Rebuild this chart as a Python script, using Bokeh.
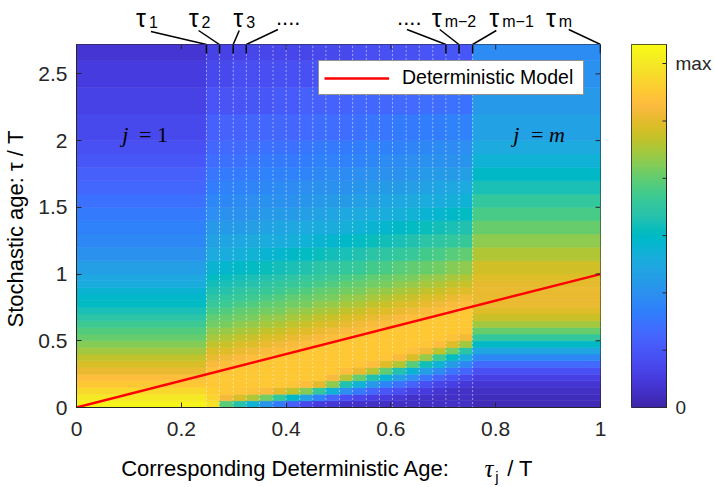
import numpy as np
from bokeh.plotting import figure
from bokeh.models import (Range1d, FixedTicker, Label, LinearColorMapper, Legend,
                          LegendItem, ColumnDataSource, CustomJSTickFormatter)
from bokeh.core.properties import value
from bokeh.transform import linear_cmap
from bokeh.layouts import row, column
from bokeh.embed import file_html
from bokeh.resources import INLINE

# ---------------- data ----------------
# deterministic ages tau_1 .. tau_{m-1} (column boundaries) and tau_m
tau = [0.248, 0.273, 0.299, 0.324, 0.349, 0.375, 0.400, 0.426, 0.451, 0.476,
       0.502, 0.527, 0.553, 0.578, 0.603, 0.629, 0.654, 0.680, 0.705, 0.730, 0.756]
tau_m = 1.0
# stochastic-age bins (row edges)
y_edges = [0.0, 0.05, 0.1, 0.15, 0.2, 0.25, 0.3, 0.35, 0.4, 0.45, 0.5, 0.55, 0.6,
           0.65, 0.7, 0.75, 0.8, 0.85, 0.9, 0.95, 1.0, 1.1, 1.2, 1.3, 1.4, 1.5, 1.6,
           1.7, 1.8, 1.9, 2.0, 2.2, 2.4, 2.6, 2.8]
# density (percent of colour-scale top), one list per column j, bottom to top
col_j01 = [98, 95, 91, 87, 84, 80, 77, 74, 70, 67, 64, 61, 58, 54, 51, 48, 46, 44, 41, 39,
           36, 32, 29, 27, 25, 23, 20, 18, 16, 14, 12, 10, 8, 6]
col_j02 = [93, 90, 88, 87, 87, 85, 83, 80, 77, 74, 71, 68, 65, 63, 60, 57, 55, 52, 50, 48,
           44, 40, 37, 34, 31, 29, 26, 24, 22, 20, 18, 15, 12, 10]
col_j03 = [62, 82, 87, 87, 87, 86, 84, 81, 78, 75, 72, 69, 66, 64, 61, 58, 56, 53, 51, 49,
           45, 41, 38, 34, 32, 29, 27, 25, 23, 21, 19, 15, 12, 10]
col_j04 = [53, 77, 86, 87, 87, 87, 85, 83, 80, 77, 74, 71, 68, 65, 63, 60, 57, 55, 52, 50,
           47, 42, 39, 35, 32, 30, 27, 25, 23, 21, 19, 15, 13, 10]
col_j05 = [43, 72, 85, 87, 87, 87, 86, 84, 81, 78, 75, 72, 69, 66, 64, 61, 58, 56, 53, 51,
           48, 43, 40, 36, 33, 31, 28, 26, 24, 22, 20, 16, 13, 11]
col_j06 = [33, 65, 83, 87, 87, 87, 87, 85, 83, 80, 77, 74, 71, 68, 65, 63, 60, 57, 55, 52,
           49, 44, 41, 37, 34, 32, 29, 27, 25, 23, 20, 16, 13, 11]
col_j07 = [25, 56, 79, 87, 87, 87, 87, 87, 84, 81, 78, 75, 72, 69, 66, 64, 61, 58, 56, 53,
           50, 45, 41, 38, 35, 32, 30, 27, 25, 23, 20, 17, 14, 11]
col_j08 = [18, 47, 74, 86, 87, 87, 87, 87, 85, 83, 80, 77, 74, 71, 68, 65, 63, 60, 57, 55,
           51, 47, 42, 39, 35, 32, 30, 27, 25, 23, 20, 17, 14, 11]
col_j09 = [12, 37, 67, 84, 87, 87, 87, 87, 87, 84, 81, 78, 75, 72, 69, 66, 64, 61, 58, 56,
           52, 48, 43, 40, 36, 33, 31, 28, 26, 24, 21, 18, 14, 11]
col_j10 = [8, 27, 56, 79, 87, 87, 87, 87, 87, 85, 83, 80, 77, 74, 71, 68, 65, 63, 60, 57,
           54, 49, 44, 41, 37, 34, 32, 29, 27, 25, 22, 18, 15, 12]
col_j11 = [7, 20, 43, 68, 83, 87, 87, 87, 87, 87, 84, 81, 78, 75, 72, 69, 66, 64, 61, 58,
           55, 50, 45, 41, 38, 35, 32, 30, 27, 25, 22, 19, 15, 12]
col_j12 = [5, 14, 31, 52, 73, 84, 87, 87, 87, 87, 85, 83, 80, 77, 74, 71, 68, 65, 63, 60,
           56, 51, 47, 42, 39, 35, 32, 30, 27, 25, 22, 19, 15, 12]
col_j13 = [5, 11, 25, 43, 64, 80, 86, 87, 87, 87, 87, 84, 81, 78, 75, 72, 69, 66, 64, 61,
           57, 52, 48, 43, 40, 36, 33, 31, 28, 26, 23, 20, 16, 13]
col_j14 = [4, 9, 20, 34, 52, 73, 84, 87, 87, 87, 87, 85, 83, 80, 77, 74, 71, 68, 65, 63,
           59, 54, 49, 44, 41, 37, 34, 32, 29, 27, 24, 20, 16, 13]
col_j15 = [4, 8, 16, 28, 44, 63, 78, 86, 87, 87, 87, 87, 84, 81, 78, 75, 72, 69, 66, 64,
           60, 55, 50, 45, 41, 38, 35, 32, 30, 27, 24, 20, 17, 14]
col_j16 = [4, 7, 13, 23, 36, 52, 72, 83, 87, 87, 87, 87, 85, 83, 80, 77, 74, 71, 68, 65,
           62, 56, 51, 47, 42, 39, 35, 32, 30, 27, 25, 21, 17, 14]
col_j17 = [4, 5, 10, 19, 31, 44, 62, 77, 85, 87, 87, 87, 87, 84, 81, 78, 75, 72, 69, 66,
           63, 57, 52, 48, 43, 40, 36, 33, 31, 28, 25, 21, 18, 14]
col_j18 = [4, 5, 8, 14, 24, 36, 50, 69, 81, 86, 87, 87, 87, 85, 83, 80, 77, 74, 71, 68,
           64, 59, 54, 49, 44, 41, 37, 34, 32, 29, 26, 22, 18, 15]
col_j19 = [4, 4, 6, 11, 19, 30, 43, 58, 74, 84, 87, 87, 87, 87, 84, 81, 78, 75, 72, 69,
           65, 60, 55, 50, 45, 41, 38, 35, 32, 30, 26, 22, 19, 15]
col_j20 = [4, 4, 5, 9, 15, 24, 35, 48, 65, 78, 85, 87, 87, 87, 85, 83, 80, 77, 74, 71,
           67, 62, 56, 51, 47, 42, 39, 35, 32, 30, 27, 23, 20, 16]
col_j21 = [4, 4, 4, 7, 12, 20, 29, 41, 54, 70, 81, 86, 87, 87, 87, 84, 81, 78, 75, 72,
           68, 63, 57, 52, 48, 43, 40, 36, 33, 31, 27, 23, 20, 16]
col_j22 = [2, 3, 4, 6, 9, 14, 21, 29, 38, 47, 56, 64, 70, 75, 78, 80, 80, 80, 79, 78,
           76, 72, 68, 64, 60, 56, 51, 47, 43, 40, 37, 34, 32, 30]
columns = [col_j01, col_j02, col_j03, col_j04, col_j05, col_j06, col_j07, col_j08,
           col_j09, col_j10, col_j11, col_j12, col_j13, col_j14, col_j15, col_j16,
           col_j17, col_j18, col_j19, col_j20, col_j21, col_j22]

det_x = [0.0, 1.0]
det_y = [0.0, 1.0]
x_ticks = [0, 0.2, 0.4, 0.6, 0.8, 1.0]
y_ticks = [0, 0.5, 1.0, 1.5, 2.0, 2.5]
y_max = 2.72
cbar_top = 100.0
cbar_ticks = [0, 15.78, 31.57, 47.35, 63.13, 78.92, 94.7]

# ---------------- palette (parula) ----------------
parula64 = [
    (0.2422, 0.1504, 0.6603), (0.2504, 0.1650, 0.7076), (0.2578, 0.1818, 0.7511), (0.2647, 0.1978, 0.7952),
    (0.2706, 0.2147, 0.8364), (0.2751, 0.2342, 0.8710), (0.2783, 0.2559, 0.8991), (0.2803, 0.2782, 0.9221),
    (0.2813, 0.3006, 0.9414), (0.2810, 0.3228, 0.9579), (0.2795, 0.3447, 0.9717), (0.2760, 0.3667, 0.9829),
    (0.2699, 0.3892, 0.9906), (0.2602, 0.4123, 0.9952), (0.2440, 0.4358, 0.9988), (0.2206, 0.4603, 0.9973),
    (0.1963, 0.4847, 0.9892), (0.1834, 0.5074, 0.9798), (0.1786, 0.5289, 0.9682), (0.1764, 0.5499, 0.9520),
    (0.1687, 0.5703, 0.9359), (0.1540, 0.5902, 0.9218), (0.1460, 0.6091, 0.9079), (0.1380, 0.6276, 0.8973),
    (0.1248, 0.6459, 0.8883), (0.1113, 0.6635, 0.8763), (0.0952, 0.6798, 0.8598), (0.0689, 0.6948, 0.8394),
    (0.0297, 0.7082, 0.8163), (0.0036, 0.7203, 0.7917), (0.0067, 0.7312, 0.7660), (0.0433, 0.7411, 0.7394),
    (0.0964, 0.7500, 0.7120), (0.1408, 0.7584, 0.6842), (0.1717, 0.7670, 0.6554), (0.1938, 0.7758, 0.6251),
    (0.2161, 0.7843, 0.5923), (0.2470, 0.7918, 0.5567), (0.2906, 0.7973, 0.5188), (0.3406, 0.8008, 0.4789),
    (0.3909, 0.8029, 0.4354), (0.4456, 0.8024, 0.3909), (0.5044, 0.7993, 0.3480), (0.5616, 0.7942, 0.3045),
    (0.6174, 0.7876, 0.2612), (0.6720, 0.7793, 0.2227), (0.7242, 0.7698, 0.1910), (0.7738, 0.7598, 0.1646),
    (0.8203, 0.7498, 0.1535), (0.8634, 0.7406, 0.1596), (0.9035, 0.7330, 0.1774), (0.9393, 0.7288, 0.2100),
    (0.9728, 0.7298, 0.2394), (0.9956, 0.7434, 0.2371), (0.9970, 0.7659, 0.2199), (0.9952, 0.7893, 0.2028),
    (0.9892, 0.8136, 0.1885), (0.9786, 0.8386, 0.1766), (0.9676, 0.8639, 0.1643), (0.9610, 0.8890, 0.1537),
    (0.9597, 0.9135, 0.1423), (0.9628, 0.9373, 0.1265), (0.9691, 0.9606, 0.1064), (0.9769, 0.9839, 0.0805)]
_a = np.array(parula64)
_t = np.linspace(0, 1, 256)
_s = np.linspace(0, 1, len(parula64))
palette = []
for t in _t:
    rgb = [np.interp(t, _s, _a[:, k]) for k in range(3)]
    palette.append("#%02x%02x%02x" % tuple(int(round(c * 255)) for c in rgb))

# ---------------- layout constants ----------------
AX = "#262626"
SANS = "Liberation Sans"
SERIF = "Liberation Serif"
FRAME_L, FRAME_W, FRAME_T, FRAME_H = 72, 528, 44, 363
ppu = FRAME_H / y_max          # pixels per y unit
def xpx(page_x):               # page pixel -> data x
    return (page_x - FRAME_L) / FRAME_W
def ypx(page_y):               # page pixel -> data y
    return (FRAME_T + FRAME_H - page_y) / ppu

TOP_H, BOT_H = 44, 38
MAIN_W = 618
MAIN_H = 487 - TOP_H - BOT_H

# ---------------- main figure ----------------
x_edges = [0.0] + tau + [tau_m]
L, R, B, T, V = [], [], [], [], []
for c, vals in enumerate(columns):
    for r, v in enumerate(vals):
        L.append(x_edges[c]); R.append(x_edges[c + 1])
        B.append(y_edges[r]); T.append(y_edges[r + 1]); V.append(v)
src = ColumnDataSource(dict(left=L, right=R, bottom=B, top=T, val=V))

p = figure(width=MAIN_W, height=MAIN_H, x_range=Range1d(0, 1), y_range=Range1d(0, y_max),
           output_backend="svg", toolbar_location=None,
           min_border_left=FRAME_L, min_border_right=MAIN_W - FRAME_L - FRAME_W,
           min_border_top=0, min_border_bottom=MAIN_H - FRAME_H)
p.xgrid.visible = False
p.ygrid.visible = False
p.outline_line_color = AX
p.outline_line_width = 1

cmap = linear_cmap("val", palette, 0, cbar_top)
p.quad(left="left", right="right", bottom="bottom", top="top", source=src,
       fill_color=cmap, line_color=cmap, line_width=0.6)

p.segment(x0=tau, y0=[0] * len(tau), x1=tau, y1=[y_max] * len(tau),
          line_color="white", line_dash="1 3", line_width=1, line_alpha=0.9)

det = p.line(det_x, det_y, line_color="#ff0000", line_width=2.4)

fmt = CustomJSTickFormatter(code="return String(Math.round(tick*10)/10);")
for ax, ticks in ((p.xaxis[0], x_ticks), (p.yaxis[0], y_ticks)):
    ax.ticker = FixedTicker(ticks=ticks)
    ax.formatter = fmt
    ax.major_tick_in = 5
    ax.major_tick_out = 0
    ax.minor_tick_line_color = None
    ax.axis_line_color = AX
    ax.major_tick_line_color = AX
    ax.major_label_text_font = SANS
    ax.major_label_text_font_size = "21px"
    ax.major_label_text_color = AX
p.xaxis.major_label_standoff = 14
p.yaxis.major_label_standoff = 9
p.yaxis.axis_label = "Stochastic age:  \u03c4 / T"
p.yaxis.axis_label_text_font = SANS
p.yaxis.axis_label_text_font_style = "normal"
p.yaxis.axis_label_text_font_size = "22px"
p.yaxis.axis_label_text_color = "black"
p.yaxis.axis_label_standoff = 7

# inward ticks on the top and right edges (box)
p.segment(x0=x_ticks, y0=[y_max] * len(x_ticks), x1=x_ticks,
          y1=[y_max - 5 / ppu] * len(x_ticks), line_color=AX, line_width=1)
p.segment(x0=[1.0] * len(y_ticks), y0=y_ticks, x1=[1.0 - 5 / FRAME_W] * len(y_ticks),
          y1=y_ticks, line_color=AX, line_width=1)

legend = Legend(items=[LegendItem(label="Deterministic Model", renderers=[det])],
                location="top_right", margin=16, padding=5, spacing=0,
                glyph_width=65, glyph_height=18, label_standoff=13, label_width=176,
                label_height=18, label_text_font=SANS, label_text_font_size="19.5px",
                label_text_color="#000000", border_line_color=AX, border_line_width=1,
                background_fill_color="white", background_fill_alpha=1)
p.add_layout(legend)

# tau markers on top edge
mark_tau = [tau[0], tau[1], tau[2], tau[3], tau[18], tau[19], tau[20], tau_m]
p.segment(x0=mark_tau, y0=[y_max] * 8, x1=mark_tau, y1=[y_max - 9 / ppu] * 8,
          line_color="black", line_width=1.5)

# j = 1 and j = m
for txt, px_x, style in (("j", 118, "italic"), ("= 1", 135, "normal"),
                         ("j", 512, "italic"), ("=", 530, "normal"), ("m", 548, "italic")):
    p.add_layout(Label(x=xpx(px_x), y=ypx(146), text=txt, text_font=SERIF,
                       text_font_style=style, text_font_size="22px", text_color="black"))

# ---------------- top strip: tau labels and leader lines ----------------
# (frames of the stacked figures are aligned, so the strip shares the 0..1 x scale)
top = figure(width=MAIN_W, height=TOP_H, x_range=Range1d(0, 1),
             y_range=Range1d(0, TOP_H), output_backend="svg", toolbar_location=None,
             x_axis_location=None, y_axis_location=None, min_border=0,
             min_border_left=FRAME_L, min_border_right=MAIN_W - FRAME_L - FRAME_W)
top.grid.visible = False
top.outline_line_color = None
lead_start = [(147, 31), (195, 30), (236, 30), (275, 29), (405, 29), (438, 29), (495, 30), (568, 29)]
top.segment(x0=[xpx(sx) for sx, sy in lead_start], y0=[TOP_H - sy for sx, sy in lead_start],
            x1=mark_tau, y1=[0] * 8, line_color="black", line_width=1.5)
tau_subs = ["1", "2", "3", "m\u22122", "m\u22121", "m"]
tau_lx = [132, 185, 230, 430, 488, 545]
top.text(x=[xpx(v) for v in tau_lx], y=[TOP_H - 17] * 6, text=["\u03c4"] * 6,
         text_font=value(SANS), text_font_size="25px", text_color="black",
         text_align="left", text_baseline="alphabetic")
top.text(x=[xpx(v + 13) for v in tau_lx], y=[TOP_H - 21] * 6, text=tau_subs,
         text_font=value(SANS), text_font_size="16px", text_color="black",
         text_align="left", text_baseline="alphabetic")
top.text(x=[xpx(273), xpx(395)], y=[TOP_H - 17] * 2, text=["....", "...."],
         text_font=value(SANS), text_font_size="22px", text_color="black",
         text_align="left", text_baseline="alphabetic")

# ---------------- bottom strip: x-axis label ----------------
bot = figure(width=MAIN_W, height=BOT_H, x_range=Range1d(0, 1),
             y_range=Range1d(0, BOT_H), output_backend="svg", toolbar_location=None,
             x_axis_location=None, y_axis_location=None, min_border=0,
             min_border_left=FRAME_L, min_border_right=MAIN_W - FRAME_L - FRAME_W)
bot.grid.visible = False
bot.outline_line_color = None
bot.text(x=[xpx(117)], y=[19], text=["Corresponding Deterministic Age:"],
         text_font=value(SANS), text_font_size="22px", text_color="black",
         text_baseline="alphabetic")
bot.text(x=[xpx(483)], y=[19], text=["\u03c4"], text_font=value(SERIF),
         text_font_style="italic", text_font_size="25px", text_color="black",
         text_baseline="alphabetic")
bot.text(x=[xpx(494)], y=[11], text=["j"], text_font=value(SANS),
         text_font_size="15px", text_color="black", text_baseline="alphabetic")
bot.text(x=[xpx(506)], y=[19], text=["/ T"], text_font=value(SANS),
         text_font_size="22px", text_color="black", text_baseline="alphabetic")

# ---------------- colour bar figure ----------------
CB_W = 714 - MAIN_W
cb = figure(width=CB_W, height=487, x_range=Range1d(0, 1), y_range=Range1d(0, cbar_top),
            output_backend="svg", toolbar_location=None, y_axis_location="right",
            min_border_left=13, min_border_right=CB_W - 13 - 35,
            min_border_top=FRAME_T, min_border_bottom=487 - FRAME_T - FRAME_H)
cb.xaxis.visible = False
cb.xgrid.visible = False
cb.ygrid.visible = False
cb.outline_line_color = AX
cb.image(image=[np.linspace(0, cbar_top, 256).reshape(256, 1)], x=0, y=0, dw=1, dh=cbar_top,
         color_mapper=LinearColorMapper(palette=palette, low=0, high=cbar_top))
cb.segment(x0=[1.0] * 5, y0=cbar_ticks[1:6], x1=[1.0 - 4 / 35] * 5, y1=cbar_ticks[1:6],
           line_color=AX, line_width=1)
cax = cb.yaxis[0]
cax.ticker = FixedTicker(ticks=[cbar_ticks[0], cbar_ticks[-1]])
cax.formatter = CustomJSTickFormatter(code="return tick == 0 ? '0' : 'max';")
cax.major_tick_in = 4
cax.major_tick_out = 0
cax.minor_tick_line_color = None
cax.axis_line_color = AX
cax.major_tick_line_color = AX
cax.major_label_text_font = SANS
cax.major_label_text_font_size = "19px"
cax.major_label_text_color = AX
cax.major_label_standoff = 9

layout = row(column(top, p, bot), cb)
open("out.html", "w").write(file_html(layout, INLINE))
